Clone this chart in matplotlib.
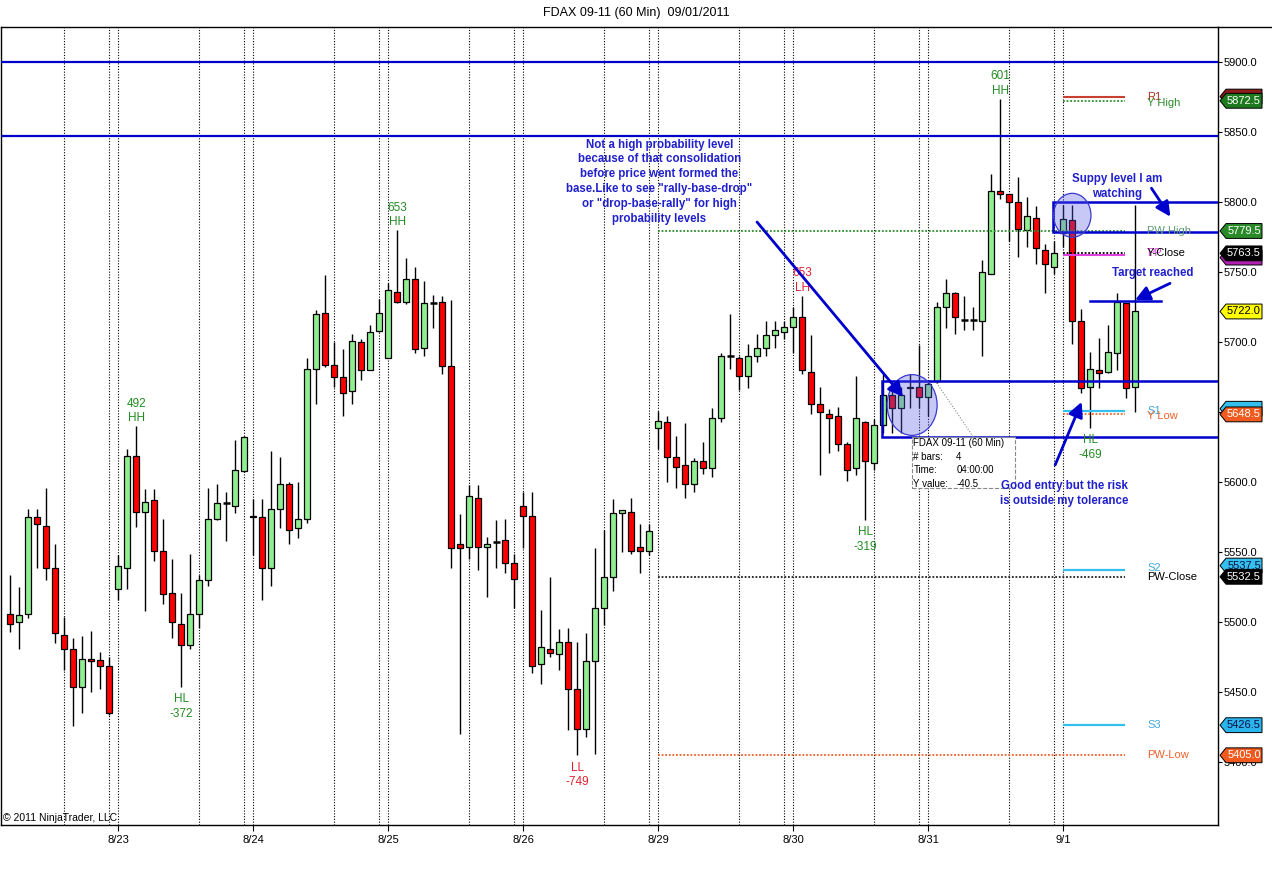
import matplotlib
matplotlib.use('Agg')
import matplotlib.pyplot as plt
from matplotlib.patches import Rectangle, Ellipse, Polygon
from matplotlib.lines import Line2D
from matplotlib.transforms import blended_transform_factory

plt.rcParams['font.family'] = ['Liberation Sans', 'DejaVu Sans']

# -------------------- DATA --------------------
# hourly FDAX bars, 15 bars per session
opens = [5506, 5500, 5506, 5575, 5569, 5539, 5491, 5481, 5454, 5474, 5473, 5469,
         5524, 5539, 5619, 5579, 5587, 5551, 5521, 5499, 5484, 5506, 5530, 5574, 5585, 5583, 5608,
         5576, 5575, 5539, 5581, 5599, 5567, 5574, 5681, 5721, 5684, 5675, 5665, 5700, 5680, 5708,
         5689, 5736, 5729, 5745, 5696, 5728, 5729, 5683, 5556, 5554, 5589, 5554, 5557, 5559, 5542,
         5583, 5576, 5470, 5481, 5477, 5486, 5452, 5424, 5472, 5510, 5532, 5578, 5579, 5554, 5551,
         5639, 5643, 5618, 5612, 5599, 5615, 5610, 5646, 5690, 5689, 5676, 5690, 5696, 5705, 5707,
         5711, 5718, 5679, 5656, 5649, 5647, 5627, 5610, 5643, 5614, 5641, 5662, 5653, 5667, 5668,
         5661, 5672, 5725, 5735, 5716, 5716, 5715, 5749, 5808, 5806, 5800, 5780, 5789, 5766, 5754,
         5778, 5787, 5715, 5668, 5680, 5679, 5692, 5728, 5668]
highs = [5534, 5525, 5581, 5581, 5596, 5556, 5504, 5489, 5490, 5494, 5479, 5475,
         5548, 5624, 5640, 5595, 5595, 5574, 5545, 5521, 5549, 5534, 5596, 5599, 5593, 5630, 5633,
         5588, 5588, 5622, 5618, 5600, 5600, 5689, 5723, 5748, 5700, 5695, 5706, 5702, 5712, 5731,
         5742, 5780, 5760, 5754, 5744, 5734, 5733, 5730, 5577, 5598, 5598, 5561, 5573, 5574, 5549,
         5593, 5593, 5509, 5532, 5495, 5496, 5486, 5492, 5553, 5566, 5588, 5580, 5589, 5570, 5570,
         5651, 5647, 5633, 5642, 5617, 5629, 5653, 5692, 5720, 5690, 5699, 5706, 5715, 5715, 5715,
         5725, 5733, 5705, 5668, 5652, 5654, 5629, 5676, 5644, 5645, 5677, 5665, 5668, 5677, 5698,
         5673, 5729, 5745, 5736, 5733, 5725, 5759, 5820, 5874, 5806, 5818, 5804, 5797, 5770, 5772,
         5798, 5798, 5724, 5693, 5703, 5712, 5735, 5728, 5798]
lows = [5493, 5481, 5503, 5539, 5530, 5485, 5466, 5426, 5435, 5450, 5452, 5434,
        5516, 5524, 5568, 5508, 5544, 5513, 5489, 5454, 5481, 5496, 5526, 5573, 5558, 5578, 5607,
        5548, 5516, 5526, 5567, 5556, 5560, 5571, 5656, 5682, 5668, 5647, 5656, 5673, 5680, 5707,
        5689, 5728, 5727, 5692, 5690, 5710, 5677, 5539, 5420, 5545, 5537, 5518, 5539, 5535, 5510,
        5553, 5464, 5456, 5475, 5466, 5423, 5405, 5418, 5406, 5498, 5522, 5550, 5549, 5535, 5548,
        5624, 5600, 5596, 5589, 5593, 5606, 5604, 5643, 5681, 5666, 5667, 5686, 5690, 5696, 5702,
        5692, 5677, 5649, 5605, 5621, 5622, 5601, 5605, 5573, 5609, 5635, 5635, 5635, 5653, 5653,
        5647, 5671, 5710, 5706, 5709, 5709, 5690, 5749, 5802, 5772, 5761, 5768, 5756, 5735, 5749,
        5768, 5699, 5664, 5639, 5667, 5678, 5680, 5660, 5650]
closes = [5499, 5505, 5575, 5570, 5539, 5492, 5481, 5454, 5474, 5472, 5469, 5435,
          5540, 5619, 5579, 5586, 5551, 5520, 5500, 5484, 5506, 5530, 5574, 5585, 5585, 5609, 5632,
          5575, 5539, 5581, 5599, 5566, 5574, 5681, 5720, 5684, 5675, 5664, 5701, 5680, 5707, 5721,
          5737, 5729, 5745, 5695, 5728, 5728, 5683, 5553, 5553, 5590, 5554, 5556, 5557, 5542, 5531,
          5576, 5469, 5482, 5478, 5486, 5452, 5424, 5472, 5510, 5532, 5578, 5580, 5551, 5551, 5565,
          5644, 5618, 5611, 5599, 5615, 5610, 5646, 5690, 5690, 5676, 5690, 5696, 5705, 5709, 5711,
          5718, 5680, 5656, 5650, 5646, 5627, 5609, 5646, 5615, 5641, 5662, 5653, 5662, 5668, 5661,
          5670, 5725, 5735, 5718, 5716, 5716, 5750, 5808, 5806, 5800, 5781, 5790, 5767, 5756, 5764,
          5788, 5715, 5667, 5681, 5678, 5693, 5729, 5667, 5722]

day_labels = ['8/23', '8/24', '8/25', '8/26', '8/29', '8/30', '8/31', '9/1']
day_first_bar = [12, 27, 42, 57, 72, 87, 102, 117]

# swing labels: bar, value, kind
swing_bars = [14, 19, 43, 63, 88, 95, 110, 120]
swing_vals = ['492', '-372', '653', '-749', '653', '-319', '601', '-469']
swing_kind = ['HH', 'HL', 'HH', 'LL', 'LH', 'HL', 'HH', 'HL']

# pivot / previous-week levels
r1 = 5875.5
y_high = 5872.5
pw_high = 5779.5
y_close = 5763.5
pp = 5762.0
last_price = 5722.0
s1 = 5651.0
y_low = 5648.5
s2 = 5537.5
pw_close = 5532.5
s3 = 5426.5
pw_low = 5405.0

# hand-drawn zones
zone_lines = [5900, 5847]
supply_zone = (5778.5, 5800)
base_zone = (5632, 5672.5)
target_level = 5729.7

# -------------------- FIGURE --------------------
W, H = 1272, 871
fig = plt.figure(figsize=(W / 100, H / 100), dpi=100)
ax = fig.add_axes([1 / W, (H - 825) / H, 1217 / W, 798 / H])
ax.set_xlim(-1.033, 134.19)
ax.set_ylim(5355.2, 5925.2)

GREEN = '#90ee90'
RED = '#ff0000'
BLUE = '#0000cd'
TXTBLUE = '#2020cc'
CYAN = '#33c0ee'
ORANGE = '#f0602a'

n = len(closes)

# session separators
for i in range(n):
    if i % 15 in (6, 11, 12):
        ax.axvline(i, color='black', lw=0.8, ls=(0, (1, 1.5)), zorder=1)

# candles
for i in range(n):
    o, h, l, c = opens[i], highs[i], lows[i], closes[i]
    ax.vlines(i, l, h, color='black', lw=1.0, zorder=2)
    if o == c:
        ax.hlines(o, i - 0.36, i + 0.36, color='black', lw=1.8, zorder=3)
    else:
        fc = GREEN if c > o else RED
        ax.add_patch(Rectangle((i - 0.34, min(o, c)), 0.68, abs(c - o),
                               fc=fc, ec='black', lw=0.9, zorder=3))

xmax = ax.get_xlim()[1]

# long blue zone lines
for z in zone_lines:
    ax.axhline(z, color=BLUE, lw=1.6, zorder=4)

# boxes
for left, (lo, hi) in [(115.9, supply_zone), (96.9, base_zone)]:
    ax.plot([xmax, left, left, xmax], [hi, hi, lo, lo], color=BLUE, lw=1.8, zorder=4,
            solid_joinstyle='miter')
ax.plot([120.0, 127.9], [target_level, target_level], color=BLUE, lw=1.8, zorder=4)

# circles
for (cx, cy), w, h in [((100.2, 5655.2), 5.56, 43.4), ((118.0, 5790.7), 4.15, 31.4)]:
    ax.add_patch(Ellipse((cx, cy), w, h, fc='#5a5ae6', alpha=0.33, ec='none', zorder=5))
    ax.add_patch(Ellipse((cx, cy), w, h, fc='none', ec='#3a3ad0', lw=0.9, zorder=5))

# level lines
pw_start, piv_start, piv_end = 72, 117, 123.9
ax.hlines(r1, piv_start, piv_end, color='#c84030', lw=1.5, zorder=3)
ax.hlines(y_high, piv_start, piv_end, color='#2e8b2e', lw=1.3, ls=(0, (1, 1)), zorder=3)
ax.hlines(pw_high, pw_start, piv_end, color='#2e8b2e', lw=1.3, ls=(0, (1, 1)), zorder=3)
ax.hlines(pp, piv_start, piv_end, color='#e040e0', lw=1.5, zorder=3)
ax.hlines(y_close, piv_start, piv_end, color='black', lw=1.3, ls=(0, (1, 1)), zorder=3)
ax.hlines(s1, piv_start, piv_end, color=CYAN, lw=1.6, zorder=3)
ax.hlines(y_low, piv_start, piv_end, color=ORANGE, lw=1.3, ls=(0, (1, 1)), zorder=3)
ax.hlines(s2, piv_start, piv_end, color=CYAN, lw=1.6, zorder=3)
ax.hlines(pw_close, pw_start, piv_end, color='#202020', lw=1.3, ls=(0, (1, 1)), zorder=3)
ax.hlines(s3, piv_start, piv_end, color=CYAN, lw=1.6, zorder=3)
ax.hlines(pw_low, pw_start, piv_end, color=ORANGE, lw=1.3, ls=(0, (1, 1)), zorder=3)

# level labels (overlapping, as NinjaTrader draws them)
lx = 126.3
lab = dict(fontsize=8, va='center', ha='left', zorder=6)
ax.text(lx, r1 - 0.5, 'R1', color='#b03020', **lab)
ax.text(lx, y_high - 1.5, 'Y High', color='#2e8b2e', **lab)
ax.text(lx, pw_high, 'PW High', color='#5c9a78', **lab)
ax.text(lx, y_close, 'PP', color='#e040e0', **lab)
ax.text(lx, y_close, 'Y-Close', color='black', **lab)
ax.text(lx, s1, 'S1', color='#40a8d8', **lab)
ax.text(lx, y_low - 1, 'Y Low', color=ORANGE, **lab)
ax.text(lx, s2 + 1, 'S2', color='#40a8d8', **lab)
ax.text(lx, pw_close - 0.5, 'PW-Close', color='black', **lab)
ax.text(lx, s3, 'S3', color='#40a8d8', **lab)
ax.text(lx, pw_low, 'PW-Low', color=ORANGE, **lab)

# swing labels
for b, v, k in zip(swing_bars, swing_vals, swing_kind):
    col = '#e02030' if k in ('LL', 'LH') else '#228b22'
    if k in ('HH', 'LH'):
        ax.text(b, highs[b] + 10.9, v + '\n' + k, color=col, fontsize=8.5, ha='center',
                va='center', linespacing=1.3, zorder=6)
    else:
        ax.text(b, lows[b] - 14.0, k + '\n' + v, color=col, fontsize=8.5, ha='center',
                va='center', linespacing=1.3, zorder=6)

# tooltip box
ax.plot([102.93, 106.97], [5671.0, 5632.6], color='#888888', lw=0.8, ls=(0, (1, 1.5)), zorder=5)
ax.add_patch(Rectangle((100.16, 5595.7), 11.44, 36.4, fc='white', ec='#888888', lw=0.8,
                       ls='--', zorder=6))
tip_rows = [('FDAX 09-11 (60 Min)', ''), ('# bars:', '4'), ('Time:', '04:00:00'), ('Y value:', '-40.5')]
for k, (a, b) in enumerate(tip_rows):
    yy = 5627.9 - k * 9.6
    ax.text(100.35, yy, a, fontsize=7, va='center', ha='left', zorder=7)
    if b:
        ax.text(105.1, yy, b, fontsize=7, va='center', ha='left', zorder=7)

# annotations
bold = dict(color=TXTBLUE, fontsize=8.3, fontweight='bold', ha='center', va='top',
            linespacing=1.32, zorder=7)
ax.text(72.1, 5845.5, 'Not a high probability level\nbecause of that consolidation\n'
        'before price went formed the\nbase.Like to see "rally-base-drop"\n'
        'or "drop-base-rally" for high\nprobability levels', **bold)
ax.text(123.0, 5821.0, 'Suppy level I am\nwatching', **bold)
ax.text(126.9, 5754.0, 'Target reached', **bold)
ax.text(117.1, 5601.5, 'Good entry but the risk\nis outside my tolerance', **bold)

arrow = dict(arrowstyle='-|>', color=BLUE, lw=2.0, mutation_scale=22, shrinkA=0, shrinkB=0)
for (x0, y0), (x1, y1) in [((82.97, 5785.9), (99.2, 5661.0)),
                           ((126.8, 5810.0), (128.9, 5789.7)),
                           ((128.86, 5742.1), (124.97, 5730.2)),
                           ((116.1, 5612.4), (119.04, 5657.4))]:
    ax.annotate('', xy=(x1, y1), xytext=(x0, y0), arrowprops=arrow, zorder=7)

# price markers on the right axis (level, vertical nudge, fill, text colour, text shown)
tr = blended_transform_factory(ax.transAxes, ax.transData)
px = 1 / 1217.0
markers = [
    (r1, 0, '#8b1a1a', 'white', False),
    (y_high, 0, '#1e7a1e', 'white', True),
    (pw_high, 0, '#2a8a2a', 'white', True),
    (pp, -1.5, '#b020b0', 'white', False),
    (y_close, 0, 'black', 'white', True),
    (last_price, 0, '#ffff00', 'black', True),
    (s1, 1.5, CYAN, 'black', False),
    (y_low, 0, '#f05a1e', 'white', True),
    (s2, 3.0, CYAN, '#101040', True),
    (pw_close, 0, 'black', 'white', True),
    (s3, 0, '#2ab4ee', '#101040', True),
    (pw_low, 0, '#f05a1e', 'white', True),
]
hh = 5.3
for lvl, dy, fc, tc, show in markers:
    v = lvl + dy
    pts = [(1 + 2 * px, v), (1 + 8 * px, v + hh), (1 + 44 * px, v + hh),
           (1 + 44 * px, v - hh), (1 + 8 * px, v - hh)]
    ax.add_patch(Polygon(pts, closed=True, fc=fc, ec='black', lw=0.7, transform=tr,
                         clip_on=False, zorder=8))
    if show:
        ax.text(1 + 26 * px, v, f'{lvl:.1f}', color=tc, fontsize=8, ha='center', va='center',
                transform=tr, clip_on=False, zorder=8)

# axes
ax.yaxis.tick_right()
ax.set_yticks(range(5400, 5901, 50))
ax.set_yticklabels([f'{t:.1f}' for t in range(5400, 5901, 50)])
ax.tick_params(axis='y', length=3, pad=1, labelsize=8, direction='out')
ax.set_xticks(day_first_bar)
ax.set_xticklabels(day_labels)
ax.tick_params(axis='x', length=4, pad=3, labelsize=8, direction='out')
for s in ax.spines.values():
    s.set_linewidth(1.0)

ax.text(0.002, 0.003, '\u00a9 2011 NinjaTrader, LLC', transform=ax.transAxes, fontsize=7.5,
        ha='left', va='bottom', zorder=9)

fig.add_artist(Line2D([1218 / W, 1], [1 - 27 / H, 1 - 27 / H], transform=fig.transFigure,
                      color='black', lw=1.0))
fig.text(0.5, 1 - 13 / H, 'FDAX 09-11 (60 Min)  09/01/2011', ha='center', va='center', fontsize=9)

fig.savefig('out.png', dpi=100)
